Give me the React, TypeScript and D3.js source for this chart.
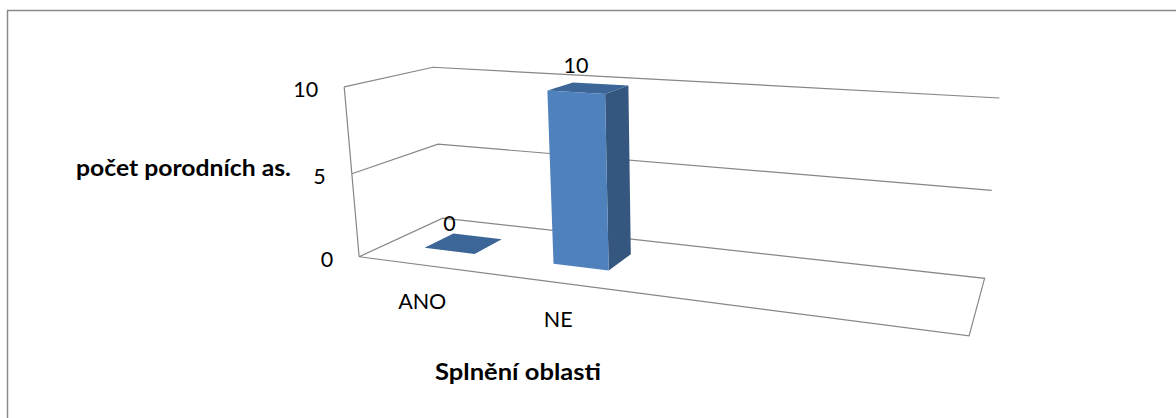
import React from "react";
import * as d3 from "d3";

const categories = ["ANO", "NE", "", ""];
const values: (number | null)[] = [0, 10, null, null];
const yTicks = [0, 5, 10];
const yDomain: [number, number] = [0, 10];
const yTitle = "počet porodních as.";
const xTitle = "Splnění oblasti";

type P3 = [number, number, number];

// 3x4 perspective camera: unit plot cube (X = category, Y = value, Z = depth) -> screen px
const camera = [
  [423.529478, -30.072073, 141.803031, 359.130034],
  [14.575107, -173.662931, -9.948398, 256.732674],
  [-0.19238, -0.043995, 0.131312, 1.0],
];

function project([X, Y, Z]: P3): [number, number] {
  const [r1, r2, r3] = camera;
  const w = r3[0] * X + r3[1] * Y + r3[2] * Z + r3[3];
  return [
    (r1[0] * X + r1[1] * Y + r1[2] * Z + r1[3]) / w,
    (r2[0] * X + r2[1] * Y + r2[2] * Z + r2[3]) / w,
  ];
}

// category slots along the floor, columns 40% of a slot wide
const xBand = d3
  .scaleBand<number>()
  .domain(d3.range(categories.length))
  .range([0, 1])
  .paddingInner(0.6)
  .paddingOuter(0.3);
const yScale = d3.scaleLinear().domain(yDomain).range([0, 1]);
const zFront = 0.32;
const zBack = 0.68;

const line = d3
  .line<P3>()
  .x((d) => project(d)[0])
  .y((d) => project(d)[1]);
const poly = (pts: P3[]) => line(pts)! + "Z";

const FONT = "Lato, 'Open Sans', sans-serif";
const GRID = "#868686";

export default function App() {
  const bw = xBand.bandwidth();

  // left wall edge, floor outline and the gridlines running over side + back walls
  const frame: P3[][] = [
    [[0, 0, 0], [0, 1, 0]],
    [[0, 0, 0], [1, 0, 0], [1, 0, 1], [0, 0, 1], [0, 0, 0]],
    ...yTicks
      .filter((t) => t > 0)
      .map((t) => {
        const y = yScale(t);
        return [[0, y, 0], [0, y, 1], [1, y, 1]] as P3[];
      }),
  ];

  return (
    <svg
      width={1176}
      height={418}
      style={{ position: "absolute", left: 0, top: 0, background: "#fff" }}
      fontFamily={FONT}
    >
      <rect x={7.5} y={10.5} width={1300} height={600} fill="#fff" stroke="#8a8a8a" strokeWidth={1.5} />
      {frame.map((pts, i) => (
        <path key={i} d={line(pts)!} fill="none" stroke={GRID} strokeWidth={1.2} />
      ))}
      {categories.map((c, i) => {
        const v = values[i];
        if (v == null) return null;
        const x0 = xBand(i)!;
        const x1 = x0 + bw;
        const y0 = 0;
        const y1 = yScale(v);
        return (
          <g key={i}>
            <path d={poly([[x1, y0, zFront], [x1, y0, zBack], [x1, y1, zBack], [x1, y1, zFront]])} fill="#35577f" />
            <path d={poly([[x0, y1, zFront], [x1, y1, zFront], [x1, y1, zBack], [x0, y1, zBack]])} fill="#3c6697" />
            <path d={poly([[x0, y0, zFront], [x1, y0, zFront], [x1, y1, zFront], [x0, y1, zFront]])} fill="#4f81bd" />
          </g>
        );
      })}
      {categories.map((c, i) => {
        const v = values[i];
        if (v == null) return null;
        const [u, w] = project([xBand(i)! + bw / 2, yScale(v), zFront]);
        return (
          <text key={i} x={u} y={w - 19.5} textAnchor="middle" fontSize={21.5} fill="#000">
            {v}
          </text>
        );
      })}
      {yTicks.map((t) => {
        const [u, w] = project([0, yScale(t), 0]);
        return (
          <text key={t} x={u - 26} y={w + 10.3} textAnchor="end" fontSize={21.5} fill="#000">
            {t}
          </text>
        );
      })}
      {categories.map((c, i) => {
        if (!c) return null;
        const [u, w] = project([xBand(i)! + bw / 2, 0, 0]);
        return (
          <text key={i} x={u} y={w + 44} textAnchor="middle" fontSize={21.5} fill="#000">
            {c}
          </text>
        );
      })}
      <text x={76} y={175.5} fontSize={22} fontWeight="bold" fill="#000" textLength={215} lengthAdjust="spacingAndGlyphs">
        {yTitle}
      </text>
      <text x={435} y={380} fontSize={22} fontWeight="bold" fill="#000" textLength={166} lengthAdjust="spacingAndGlyphs">
        {xTitle}
      </text>
    </svg>
  );
}
